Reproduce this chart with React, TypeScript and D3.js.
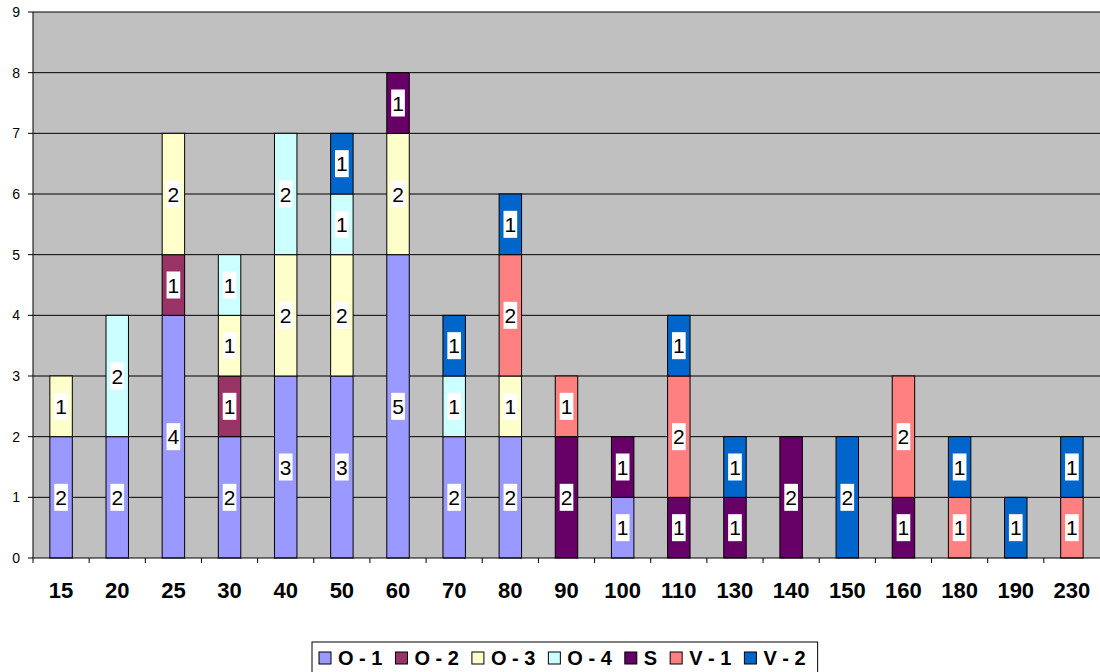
import React from "react";
import * as d3 from "d3";

const categories = ["15","20","25","30","40","50","60","70","80","90","100","110","130","140","150","160","180","190","230"];
const seriesNames = ["O - 1","O - 2","O - 3","O - 4","S","V - 1","V - 2"];
const seriesColors = ["#9999FF","#993366","#FFFFCC","#CCFFFF","#660066","#FF8080","#0066CC"];
const o1 = [2,2,4,2,3,3,5,2,2,0,1,0,0,0,0,0,0,0,0];
const o2 = [0,0,1,1,0,0,0,0,0,0,0,0,0,0,0,0,0,0,0];
const o3 = [1,0,2,1,2,2,2,0,1,0,0,0,0,0,0,0,0,0,0];
const o4 = [0,2,0,1,2,1,0,1,0,0,0,0,0,0,0,0,0,0,0];
const sS = [0,0,0,0,0,0,1,0,0,2,1,1,1,2,0,1,0,0,0];
const v1 = [0,0,0,0,0,0,0,0,2,1,0,2,0,0,0,2,1,0,1];
const v2 = [0,0,0,0,0,1,0,1,1,0,0,1,1,0,2,0,1,1,1];
const yTicks = [0,1,2,3,4,5,6,7,8,9];

const seriesValues = [o1, o2, o3, o4, sS, v1, v2];

export default function App() {
  const W = 1100, H = 672;
  const left = 33, right = 1100, top = 12, bottom = 558;
  const x = d3.scaleBand().domain(categories).range([left, right]).paddingInner(0.6).paddingOuter(0.3);
  const xb = d3.scaleBand().domain(categories).range([left, right]);
  const y = d3.scaleLinear().domain([0, 9]).range([bottom, top]);

  const table = categories.map((c, i) => {
    const row: any = { cat: c };
    seriesNames.forEach((s, k) => (row[s] = seriesValues[k][i]));
    return row;
  });
  const stacked = d3.stack().keys(seriesNames)(table);

  const font = "Arial, 'Liberation Sans', sans-serif";
  const measure = (() => {
    const cv = document.createElement("canvas").getContext("2d")!;
    return (t: string, f: string) => { cv.font = f; return cv.measureText(t).width; };
  })();

  // legend layout
  const legFs = 20;
  const legFont = `bold ${legFs}px Arial, 'Liberation Sans', sans-serif`;
  const sq = 12, gapSq = 7, gapItem = 13, padL = 7, padR = 12;
  const widths = seriesNames.map(n => sq + gapSq + measure(n, legFont));
  const totalW = widths.reduce((a, b) => a + b, 0) + gapItem * (seriesNames.length - 1);
  const legW = padL + totalW + padR;
  const legX = 312;
  const legY = 642;
  let acc = legX + padL;
  const legPos = widths.map(w => { const p = acc; acc += w + gapItem; return p; });

  const lblFs = 21;
  const lblFont = `${lblFs}px Arial, 'Liberation Sans', sans-serif`;

  return (
    <svg width={W} height={H} style={{ position: "absolute", left: 0, top: 0 }} fontFamily={font}>
      <rect x={left} y={top} width={right - left} height={bottom - top} fill="#C0C0C0" />
      {yTicks.map(t => (
        <g key={t}>
          {t > 0 && <line x1={left} x2={right} y1={y(t)} y2={y(t)} stroke="#000" strokeWidth={1} />}
          <line x1={left - 5} x2={left} y1={y(t)} y2={y(t)} stroke="#000" />
          <text x={20} y={y(t)} dy="0.35em" textAnchor="end" fontSize={14} fill="#000">{t}</text>
        </g>
      ))}
      {stacked.map((layer, k) => (
        <g key={layer.key}>
          {layer.map((d, i) => d[1] - d[0] > 0 ? (
            <rect key={i} x={x(categories[i])!} width={x.bandwidth()} y={y(d[1])} height={y(d[0]) - y(d[1])}
              fill={seriesColors[k]} stroke="#000" strokeWidth={1} />
          ) : null)}
        </g>
      ))}
      {stacked.map((layer) => (
        <g key={layer.key + "l"}>
          {layer.map((d, i) => {
            const v = d[1] - d[0];
            if (v <= 0) return null;
            const cx = x(categories[i])! + x.bandwidth() / 2;
            const cy = (y(d[0]) + y(d[1])) / 2;
            const tw = measure(String(v), lblFont);
            return (
              <g key={i}>
                <rect x={cx - tw / 2 - 1} y={cy - 13.5} width={tw + 2} height={27} fill="#fff" />
                <text x={cx} y={cy} dy="0.36em" textAnchor="middle" fontSize={lblFs} fill="#000">{v}</text>
              </g>
            );
          })}
        </g>
      ))}
      <line x1={left} x2={left} y1={top} y2={bottom} stroke="#000" />
      <line x1={left} x2={right} y1={bottom} y2={bottom} stroke="#000" />
      {categories.map((c, i) => (
        <g key={c}>
          <line x1={xb(c)!} x2={xb(c)!} y1={bottom} y2={bottom + 5} stroke="#000" />
          <text x={xb(c)! + xb.bandwidth() / 2} y={590} dy="0.36em" textAnchor="middle" fontSize={22} fontWeight="bold" fill="#000">{c}</text>
        </g>
      ))}
      <rect x={legX} y={legY} width={legW} height={34} fill="#fff" stroke="#000" />
      {seriesNames.map((n, k) => (
        <g key={n}>
          <rect x={legPos[k]} y={legY + 10} width={sq} height={sq} fill={seriesColors[k]} stroke="#000" />
          <text x={legPos[k] + sq + gapSq} y={legY + 16} dy="0.36em" fontSize={legFs} fontWeight="bold" fill="#000">{n}</text>
        </g>
      ))}
    </svg>
  );
}
